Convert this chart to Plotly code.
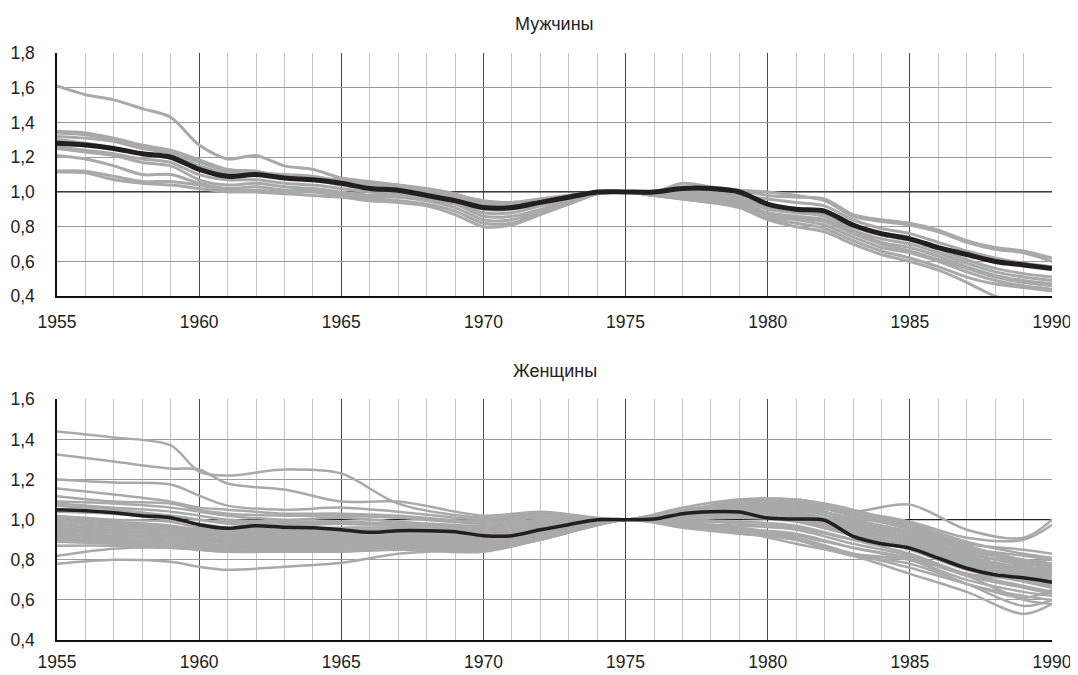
import plotly.graph_objects as go

# ---------------- data ----------------
YEARS = list(range(1955, 1991))
F_YEARS = [1955, 1957, 1959, 1960, 1961, 1963, 1965, 1967, 1970, 1972,
           1975, 1977, 1979, 1981, 1983, 1985, 1987, 1989, 1990]
Y_TICKS_M = [0.4, 0.6, 0.8, 1.0, 1.2, 1.4, 1.6, 1.8]
Y_TICKS_F = [0.4, 0.6, 0.8, 1.0, 1.2, 1.4, 1.6]
X_TICKS = [1955, 1960, 1965, 1970, 1975, 1980, 1985, 1990]
REF_LEVEL = 1.0
TITLE_M = "Мужчины"
TITLE_F = "Женщины"

MEAN_M = [1.28, 1.27, 1.25, 1.22, 1.20, 1.13, 1.09, 1.10, 1.08, 1.07, 1.05, 1.02, 1.01, 0.98, 0.95, 0.91, 0.91, 0.94,
          0.97, 1.00, 1.00, 1.00, 1.02, 1.02, 1.00, 0.93, 0.90, 0.89, 0.81, 0.76, 0.73, 0.68, 0.64, 0.60, 0.58, 0.56]

M1 = [1.61, 1.56, 1.53, 1.48, 1.43, 1.27, 1.19, 1.21, 1.15, 1.13, 1.08, 1.06, 1.04, 1.02, 0.99, 0.94, 0.93, 0.96,
      0.98, 1.00, 1.00, 1.00, 1.05, 1.03, 1.01, 0.98, 0.97, 0.96, 0.87, 0.84, 0.82, 0.78, 0.72, 0.68, 0.66, 0.62]
M2 = [1.35, 1.34, 1.31, 1.27, 1.24, 1.185, 1.13, 1.12, 1.09, 1.08, 1.07, 1.05, 1.04, 1.01, 0.98, 0.95, 0.94, 0.96,
      0.98, 1.00, 1.00, 1.00, 1.03, 1.02, 1.01, 1.00, 0.98, 0.95, 0.86, 0.83, 0.81, 0.77, 0.71, 0.67, 0.65, 0.60]
M3 = [1.34, 1.33, 1.30, 1.26, 1.23, 1.17, 1.12, 1.11, 1.10, 1.09, 1.06, 1.04, 1.03, 1.00, 0.97, 0.93, 0.93, 0.95,
      0.98, 1.00, 1.00, 0.99, 1.01, 1.00, 0.98, 0.96, 0.94, 0.92, 0.84, 0.79, 0.76, 0.71, 0.66, 0.62, 0.59, 0.57]
M4 = [1.32, 1.31, 1.29, 1.25, 1.22, 1.15, 1.11, 1.11, 1.08, 1.07, 1.05, 1.03, 1.02, 0.99, 0.96, 0.92, 0.92, 0.94,
      0.97, 1.00, 1.00, 0.99, 1.00, 0.99, 0.97, 0.91, 0.89, 0.87, 0.80, 0.75, 0.72, 0.67, 0.61, 0.56, 0.53, 0.51]
M5 = [1.30, 1.28, 1.25, 1.22, 1.20, 1.14, 1.10, 1.10, 1.08, 1.07, 1.04, 1.02, 1.01, 0.98, 0.95, 0.90, 0.90, 0.93,
      0.96, 0.99, 1.00, 0.99, 0.99, 0.98, 0.96, 0.90, 0.88, 0.86, 0.78, 0.73, 0.70, 0.65, 0.59, 0.54, 0.51, 0.49]
M6 = [1.26, 1.24, 1.22, 1.19, 1.17, 1.10, 1.07, 1.07, 1.05, 1.04, 1.02, 1.00, 0.99, 0.97, 0.94, 0.88, 0.88, 0.92,
      0.96, 0.99, 1.00, 0.99, 0.98, 0.97, 0.95, 0.88, 0.86, 0.84, 0.77, 0.71, 0.68, 0.63, 0.57, 0.52, 0.49, 0.47]
M7 = [1.25, 1.23, 1.21, 1.17, 1.15, 1.07, 1.04, 1.05, 1.03, 1.02, 1.00, 0.98, 0.98, 0.96, 0.93, 0.86, 0.86, 0.90,
      0.95, 0.99, 1.00, 0.99, 0.98, 0.96, 0.94, 0.87, 0.85, 0.83, 0.76, 0.70, 0.66, 0.61, 0.56, 0.51, 0.48, 0.46]
M8 = [1.21, 1.19, 1.15, 1.10, 1.10, 1.05, 1.02, 1.03, 1.01, 1.01, 0.99, 0.97, 0.97, 0.95, 0.91, 0.84, 0.84, 0.89,
      0.94, 0.99, 1.00, 0.98, 0.97, 0.95, 0.93, 0.86, 0.84, 0.81, 0.74, 0.68, 0.65, 0.60, 0.54, 0.49, 0.46, 0.44]
M9 = [1.12, 1.12, 1.09, 1.06, 1.06, 1.04, 1.01, 1.01, 1.00, 1.00, 0.98, 0.96, 0.95, 0.93, 0.89, 0.82, 0.82, 0.88,
      0.93, 0.99, 1.00, 0.98, 0.96, 0.94, 0.92, 0.85, 0.82, 0.79, 0.72, 0.66, 0.62, 0.57, 0.51, 0.47, 0.45, 0.43]
M10 = [1.115, 1.11, 1.07, 1.05, 1.04, 1.02, 1.00, 1.00, 0.99, 0.98, 0.97, 0.95, 0.94, 0.92, 0.87, 0.80, 0.81, 0.87,
       0.93, 0.99, 1.00, 0.98, 0.96, 0.94, 0.91, 0.84, 0.80, 0.77, 0.70, 0.64, 0.60, 0.55, 0.48, 0.40, 0.37, 0.39]
MEN_SERIES = [M1, M2, M3, M4, M5, M6, M7, M8, M9, M10]

MEAN_F = [1.05, 1.045, 1.035, 1.02, 1.01, 0.975, 0.957, 0.97, 0.962, 0.96, 0.95, 0.937, 0.945, 0.945, 0.94, 0.92,
          0.92, 0.95, 0.975, 1.0, 1.0, 1.003, 1.03, 1.04, 1.038, 1.008, 1.003, 0.997, 0.917, 0.88, 0.858, 0.808,
          0.758, 0.725, 0.71, 0.688]

F1 = [1.44, 1.41, 1.37, 1.24, 1.22, 1.25, 1.23, 1.08, 1.01, 1.03, 1.00, 1.06, 1.10, 1.09, 1.03, 0.97, 0.88, 0.85, 0.83]
F2 = [1.325, 1.29, 1.255, 1.25, 1.18, 1.15, 1.09, 1.09, 1.02, 1.04, 1.00, 1.05, 1.08, 1.07, 1.04, 1.075, 0.95, 0.91, 1.00]
F3 = [1.20, 1.185, 1.175, 1.12, 1.07, 1.05, 1.06, 1.04, 1.00, 1.02, 1.00, 1.04, 1.08, 1.08, 1.04, 0.99, 0.91, 0.90, 0.975]
F4 = [1.155, 1.125, 1.09, 1.06, 1.05, 1.03, 1.03, 1.02, 0.99, 1.01, 1.00, 1.03, 1.07, 1.06, 1.01, 0.96, 0.86, 0.82, 0.80]
F5 = [1.117, 1.09, 1.08, 1.05, 1.03, 1.02, 1.02, 1.01, 0.98, 1.00, 1.00, 1.04, 1.10, 1.10, 1.05, 0.97, 0.87, 0.80, 0.78]
F6 = [1.09, 1.08, 1.06, 1.04, 1.02, 1.00, 1.01, 0.99, 0.97, 0.99, 1.00, 1.03, 1.09, 1.08, 1.02, 0.95, 0.85, 0.79, 0.77]
F7 = [1.08, 1.06, 1.04, 1.02, 1.00, 0.99, 0.99, 0.98, 0.96, 0.99, 1.00, 1.02, 1.06, 1.05, 0.99, 0.93, 0.83, 0.78, 0.76]
F8 = [1.07, 1.05, 1.02, 1.00, 0.98, 0.97, 0.98, 0.97, 0.95, 0.98, 1.00, 1.04, 1.08, 1.07, 1.00, 0.94, 0.84, 0.77, 0.75]
F9 = [1.04, 1.03, 1.00, 0.98, 0.96, 0.96, 0.96, 0.96, 0.94, 0.97, 1.00, 1.03, 1.07, 1.06, 0.98, 0.92, 0.82, 0.76, 0.74]
F10 = [1.02, 1.00, 0.99, 0.96, 0.95, 0.95, 0.95, 0.95, 0.93, 0.97, 1.00, 1.02, 1.06, 1.04, 0.97, 0.90, 0.80, 0.75, 0.73]
F11 = [1.01, 0.99, 0.97, 0.95, 0.94, 0.94, 0.94, 0.94, 0.92, 0.96, 1.00, 1.03, 1.05, 1.03, 0.96, 0.89, 0.79, 0.74, 0.72]
F12 = [1.00, 0.98, 0.96, 0.94, 0.93, 0.93, 0.93, 0.93, 0.91, 0.96, 1.00, 1.02, 1.04, 1.02, 0.95, 0.88, 0.78, 0.73, 0.71]
F13 = [0.99, 0.97, 0.95, 0.93, 0.92, 0.92, 0.92, 0.92, 0.90, 0.95, 1.00, 1.01, 1.03, 1.01, 0.94, 0.87, 0.77, 0.72, 0.70]
F14 = [0.98, 0.96, 0.95, 0.93, 0.91, 0.91, 0.91, 0.91, 0.90, 0.95, 1.00, 1.02, 1.05, 1.04, 0.97, 0.91, 0.81, 0.76, 0.75]
F15 = [0.97, 0.95, 0.94, 0.92, 0.90, 0.90, 0.90, 0.90, 0.89, 0.94, 1.00, 1.01, 1.02, 1.00, 0.93, 0.86, 0.76, 0.70, 0.68]
F16 = [0.96, 0.94, 0.93, 0.91, 0.89, 0.89, 0.90, 0.91, 0.88, 0.94, 1.00, 1.00, 1.01, 0.99, 0.92, 0.85, 0.75, 0.69, 0.66]
F17 = [0.95, 0.93, 0.92, 0.90, 0.88, 0.89, 0.89, 0.90, 0.88, 0.93, 1.00, 0.99, 0.99, 0.97, 0.90, 0.83, 0.73, 0.67, 0.64]
F18 = [0.94, 0.92, 0.91, 0.89, 0.87, 0.88, 0.88, 0.89, 0.87, 0.93, 1.00, 0.98, 0.97, 0.95, 0.88, 0.82, 0.72, 0.66, 0.63]
F19 = [0.93, 0.91, 0.90, 0.88, 0.87, 0.87, 0.88, 0.89, 0.87, 0.92, 1.00, 0.97, 0.95, 0.93, 0.86, 0.80, 0.70, 0.64, 0.62]
F20 = [0.92, 0.90, 0.89, 0.87, 0.86, 0.87, 0.87, 0.88, 0.86, 0.92, 1.00, 0.98, 0.94, 0.90, 0.82, 0.80, 0.68, 0.62, 0.60]
F21 = [0.91, 0.89, 0.88, 0.87, 0.86, 0.86, 0.87, 0.88, 0.86, 0.91, 1.00, 0.97, 0.94, 0.90, 0.83, 0.80, 0.72, 0.60, 0.58]
F22 = [0.90, 0.89, 0.88, 0.86, 0.85, 0.86, 0.86, 0.87, 0.85, 0.91, 1.00, 0.96, 0.93, 0.90, 0.82, 0.78, 0.68, 0.57, 0.60]
F23 = [0.89, 0.88, 0.87, 0.86, 0.85, 0.85, 0.86, 0.87, 0.85, 0.90, 1.00, 0.97, 0.94, 0.88, 0.82, 0.73, 0.64, 0.53, 0.58]
F24 = [0.87, 0.87, 0.86, 0.85, 0.84, 0.85, 0.85, 0.86, 0.85, 0.90, 1.00, 0.98, 0.95, 0.91, 0.83, 0.76, 0.68, 0.61, 0.65]
F25 = [0.82, 0.855, 0.86, 0.85, 0.84, 0.84, 0.84, 0.85, 0.84, 0.90, 1.00, 0.99, 0.96, 0.92, 0.86, 0.81, 0.73, 0.70, 0.67]
F26 = [0.78, 0.80, 0.79, 0.765, 0.75, 0.765, 0.785, 0.83, 0.86, 0.92, 1.00, 1.00, 0.98, 0.96, 0.90, 0.86, 0.79, 0.73, 0.72]
F27 = [1.05, 1.04, 1.02, 1.00, 0.99, 0.98, 0.98, 0.97, 0.94, 0.97, 1.00, 1.04, 1.09, 1.10, 1.04, 0.98, 0.89, 0.83, 0.81]
F28 = [0.95, 0.94, 0.93, 0.92, 0.90, 0.90, 0.91, 0.92, 0.90, 0.95, 1.00, 1.03, 1.08, 1.09, 1.03, 0.96, 0.86, 0.80, 0.78]
F29 = [0.99, 0.98, 0.96, 0.94, 0.93, 0.92, 0.93, 0.93, 0.92, 0.96, 1.00, 1.02, 1.06, 1.07, 1.00, 0.93, 0.83, 0.79, 0.80]
F30 = [0.93, 0.92, 0.92, 0.90, 0.89, 0.89, 0.90, 0.91, 0.89, 0.94, 1.00, 1.02, 1.04, 1.03, 0.96, 0.89, 0.80, 0.75, 0.77]
WOMEN_SERIES = [F1, F2, F3, F4, F5, F6, F7, F8, F9, F10, F11, F12, F13, F14, F15,
                F16, F17, F18, F19, F20, F21, F22, F23, F24, F25, F26, F27, F28, F29, F30]

# ---------------- style ----------------
GRAY = "#a9a9a9"
DARK = "#231f20"
FONT = "Liberation Sans, Arial, sans-serif"
TICK_SIZE = 17.5
TITLE_SIZE = 18

fig = go.Figure()

# reference level lines (drawn first, below the curves)
for xa, ya in (("x", "y"), ("x2", "y2")):
    fig.add_trace(go.Scatter(x=[YEARS[0], YEARS[-1]], y=[REF_LEVEL, REF_LEVEL], mode="lines",
                             xaxis=xa, yaxis=ya, line=dict(color=DARK, width=1.3),
                             hoverinfo="skip", showlegend=False))

for s in MEN_SERIES:
    fig.add_trace(go.Scatter(x=YEARS, y=s, mode="lines", xaxis="x", yaxis="y",
                             line=dict(color=GRAY, width=3, shape="spline", smoothing=0.8),
                             hoverinfo="skip", showlegend=False))
fig.add_trace(go.Scatter(x=YEARS, y=MEAN_M, mode="lines", xaxis="x", yaxis="y",
                         line=dict(color=DARK, width=5, shape="spline", smoothing=0.8),
                         hoverinfo="skip", showlegend=False))

for s in WOMEN_SERIES:
    fig.add_trace(go.Scatter(x=F_YEARS, y=s, mode="lines", xaxis="x2", yaxis="y2",
                             line=dict(color=GRAY, width=2.5, shape="spline", smoothing=0.9),
                             hoverinfo="skip", showlegend=False))
fig.add_trace(go.Scatter(x=YEARS, y=MEAN_F, mode="lines", xaxis="x2", yaxis="y2",
                         line=dict(color=DARK, width=3.5, shape="spline", smoothing=0.8),
                         hoverinfo="skip", showlegend=False))

xcommon = dict(range=[YEARS[0], YEARS[-1]], tickmode="array", tickvals=X_TICKS,
               tickformat="d", showgrid=True, gridcolor="#4a4a4a", gridwidth=1,
               showline=True, linecolor="#111111", linewidth=1.5, ticks="",
               zeroline=False, automargin=False,
               minor=dict(dtick=1, tick0=1955, showgrid=True, gridcolor="#c4c4c4", gridwidth=1.2),
               tickfont=dict(size=TICK_SIZE, color="#222222", family=FONT), fixedrange=True)
ycommon = dict(showgrid=True, gridcolor="#9a9a9a", gridwidth=1, showline=True,
               linecolor="#111111", linewidth=1.5, ticks="", zeroline=False,
               tickformat=".1f", ticklabelstandoff=17, automargin=False,
               tickfont=dict(size=TICK_SIZE, color="#222222", family=FONT), fixedrange=True)

# the page body has an 8px margin: size and margins compensate for it
fig.update_layout(
    width=1070, height=667,
    margin=dict(l=49, r=26, t=45, b=35),
    paper_bgcolor="white", plot_bgcolor="white",
    separators=", ",
    font=dict(family=FONT, size=TICK_SIZE, color="#222222"),
    xaxis=dict(xcommon, anchor="y", domain=[0, 1], ticklabelstandoff=9),
    yaxis=dict(ycommon, anchor="x", domain=[0.5857, 1.0], range=[0.4, 1.8],
               tickmode="array", tickvals=Y_TICKS_M),
    xaxis2=dict(xcommon, anchor="y2", domain=[0, 1], ticklabelstandoff=5),
    yaxis2=dict(ycommon, anchor="x2", domain=[0.0, 0.41], range=[0.4, 1.6],
                tickmode="array", tickvals=Y_TICKS_F),
    annotations=[
        dict(text=TITLE_M, xref="paper", yref="paper", x=0.5, y=1.0, yshift=41,
             showarrow=False, font=dict(size=TITLE_SIZE, family=FONT, color="#222222")),
        dict(text=TITLE_F, xref="paper", yref="paper", x=0.5, y=0.41, yshift=28,
             showarrow=False, font=dict(size=TITLE_SIZE, family=FONT, color="#222222")),
    ],
)

fig.write_html("out.html")
